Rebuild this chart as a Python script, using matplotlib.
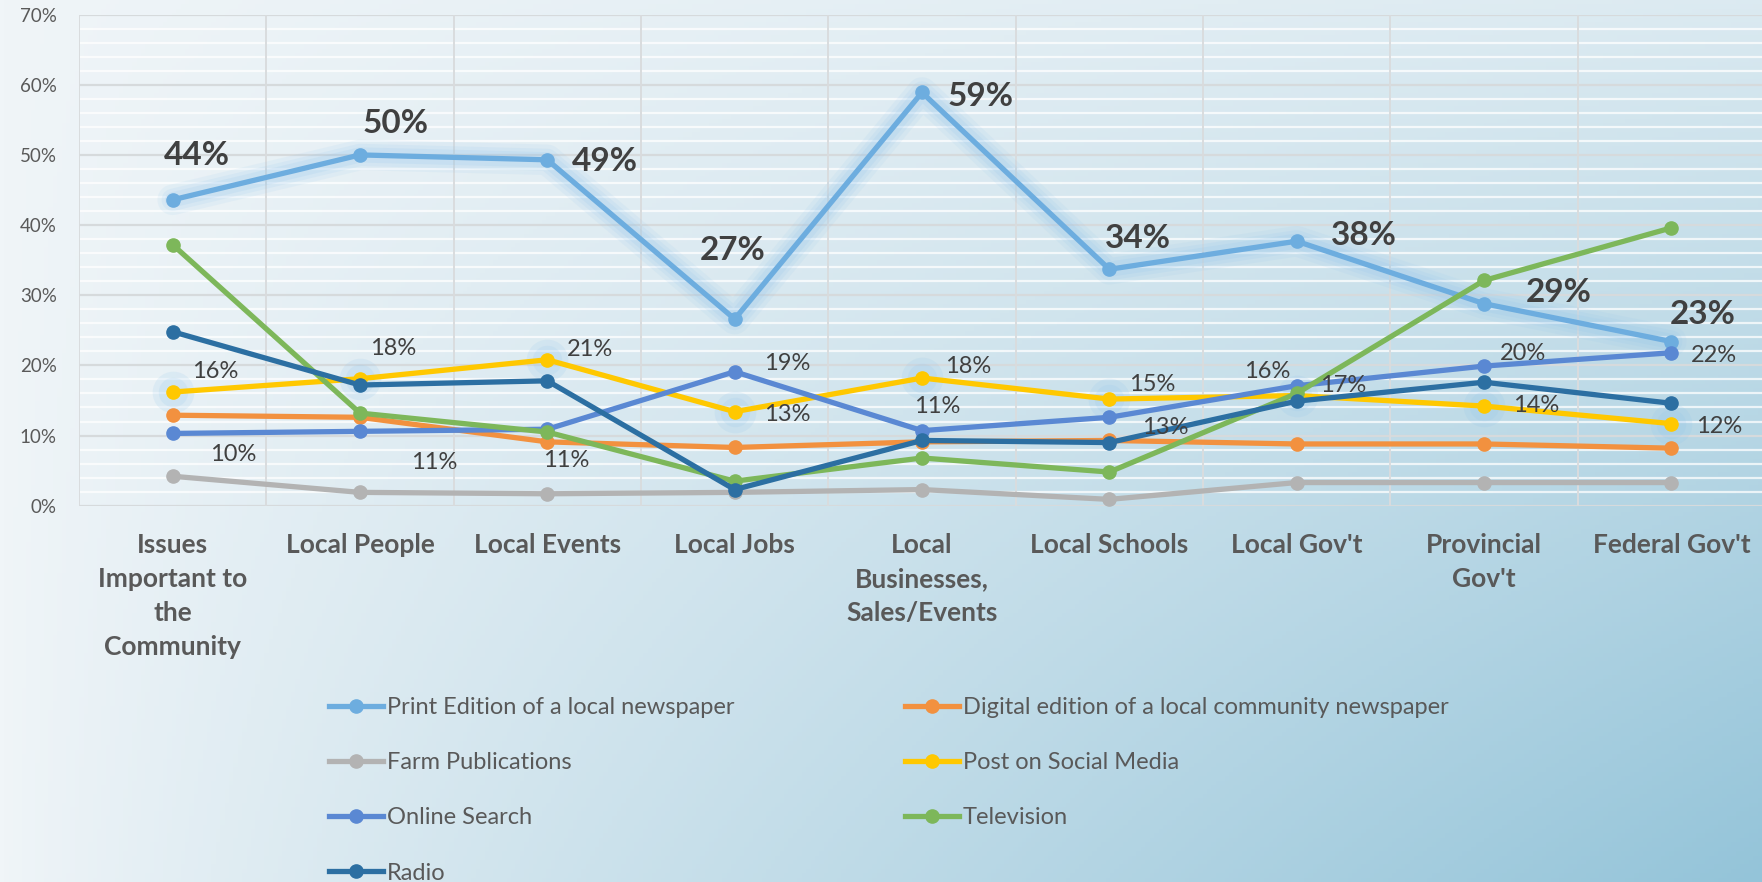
import numpy as np
import matplotlib
matplotlib.use("Agg")
import matplotlib.pyplot as plt
from matplotlib.colors import to_rgb

plt.rcParams['font.family'] = ['Lato', 'DejaVu Sans']

categories = ["Issues\nImportant to\nthe\nCommunity", "Local People", "Local Events", "Local Jobs",
              "Local\nBusinesses,\nSales/Events", "Local Schools", "Local Gov't",
              "Provincial\nGov't", "Federal Gov't"]

print_edition = [43.6, 50.0, 49.3, 26.6, 58.9, 33.7, 37.7, 28.8, 23.4]
digital_edition = [12.9, 12.6, 9.1, 8.3, 9.1, 9.3, 8.8, 8.8, 8.2]
farm_pubs = [4.2, 1.9, 1.7, 1.9, 2.3, 0.9, 3.3, 3.3, 3.3]
social_media = [16.2, 18.1, 20.8, 13.4, 18.2, 15.2, 15.7, 14.2, 11.7]
online_search = [10.3, 10.6, 10.9, 19.1, 10.7, 12.6, 17.1, 19.9, 21.8]
television = [37.2, 13.2, 10.5, 3.5, 6.8, 4.8, 16.0, 32.1, 39.6]
radio = [24.8, 17.2, 17.8, 2.3, 9.3, 9.0, 14.9, 17.6, 14.6]

series_names = ["Print Edition of a local newspaper", "Digital edition of a local community newspaper",
                "Farm Publications", "Post on Social Media", "Online Search", "Television", "Radio"]
series_values = [print_edition, digital_edition, farm_pubs, social_media, online_search, television, radio]
series_colors = ["#6daddf", "#f2913f", "#b3b3b3", "#ffc800", "#5a88d3", "#7db75a", "#2c6fa2"]

yticks = [0, 10, 20, 30, 40, 50, 60, 70]

W, H = 1762, 882
fig = plt.figure(figsize=(W / 100, H / 100), dpi=100)

# background gradient
bg = fig.add_axes([0, 0, 1, 1], zorder=-10)
bg.set_axis_off()
u = np.linspace(0, 1, 400)[None, :]
v = np.linspace(0, 1, 200)[:, None]
t = np.clip(u ** 0.85 * (0.22 + 0.78 * v ** 0.9), 0, 1)
c0 = np.array(to_rgb("#f0f5f8"))
c1 = np.array(to_rgb("#94c4d9"))
img = c0[None, None, :] * (1 - t[..., None]) + c1[None, None, :] * t[..., None]
bg.imshow(img, aspect='auto', extent=[0, 1, 0, 1], origin='upper')
bg.set_xlim(0, 1)
bg.set_ylim(0, 1)

ax = fig.add_axes([79 / W, 1 - 505.7 / H, 1686 / W, (505.7 - 14.6) / H])
ax.set_facecolor('none')
x = np.arange(len(categories))
ax.set_xlim(-0.5, 8.5)
ax.set_ylim(0, 70)

# grid
for yy in np.arange(2, 70, 2):
    if yy % 10 != 0:
        ax.axhline(yy, color='white', lw=1.6, alpha=0.75, zorder=0.5)
for yy in yticks:
    ax.axhline(yy, color='#d6dadc', lw=1.6, zorder=0.6)
for xx in np.arange(-0.5, 8.5, 1.0):
    ax.axvline(xx, color='#d9dcde', lw=1.4, zorder=0.6)
for s in ax.spines.values():
    s.set_visible(False)

ax.set_yticks(yticks)
ax.set_yticklabels([f"{v}%" for v in yticks], fontsize=13.5, color='#595959')
ax.set_xticks(x)
ax.set_xticklabels(categories, fontsize=19, fontweight='bold', color='#595959', linespacing=1.5, va='top')
ax.tick_params(axis='both', length=0)
ax.tick_params(axis='y', pad=16)
ax.tick_params(axis='x', pad=20)

# glow for print line
for lw, a in [(22, 0.10), (16, 0.12), (11, 0.15)]:
    ax.plot(x, print_edition, color='#8ec3ec', lw=lw, alpha=a, solid_capstyle='round',
            solid_joinstyle='round', zorder=1)
# glow for social markers
ax.scatter(x, social_media, s=900, color='#8ec3ec', alpha=0.15, lw=0, zorder=1)
ax.scatter(x, social_media, s=450, color='#8ec3ec', alpha=0.15, lw=0, zorder=1)

handles = {}
for i, (name, vals, col) in enumerate(zip(series_names, series_values, series_colors)):
    ln, = ax.plot(x, vals, color=col, lw=3.8, marker='o', markersize=9.5, zorder=2 + i, label=name)
    handles[name] = ln

# data labels
print_off = [(24, 44), (36, 31), (58, -2), (-2, 69), (59, -4), (29, 31), (67, 6), (75, 11), (31, 27)]
social_off = [(43, 21), (33, 30), (43, 10), (53, -3), (46, 12), (43, 15), (-29, 24), (52, 1), (48, -3)]
online_off = [(61, -21), (74, -31), (19, -31), (53, 8), (15, 24), (56, -10), (46, 0), (39, 13), (43, -3)]

for i in range(len(x)):
    ax.annotate(f"{print_edition[i]:.0f}%", (x[i], print_edition[i]), xytext=print_off[i],
                textcoords='offset pixels', ha='center', va='center', fontsize=24,
                fontweight='bold', color='#404040', zorder=20)
    ax.annotate(f"{social_media[i]:.0f}%", (x[i], social_media[i]), xytext=social_off[i],
                textcoords='offset pixels', ha='center', va='center', fontsize=17,
                color='#404040', zorder=20)
    ax.annotate(f"{online_search[i]:.0f}%", (x[i], online_search[i]), xytext=online_off[i],
                textcoords='offset pixels', ha='center', va='center', fontsize=17,
                color='#404040', zorder=20)

# legend: two columns placed like the reference
col1 = [series_names[i] for i in (0, 2, 4, 6)]
col2 = [series_names[i] for i in (1, 3, 5)]
leg_kw = dict(frameon=False, fontsize=17, labelcolor='#595959', handlelength=2.3,
              handletextpad=0.15, labelspacing=1.45, borderpad=0, borderaxespad=0, loc='upper left')
leg1 = fig.legend([handles[n] for n in col1], col1, bbox_to_anchor=(329 / W, 1 - 697 / H), **leg_kw)
leg2 = fig.legend([handles[n] for n in col2], col2, bbox_to_anchor=(905 / W, 1 - 697 / H), **leg_kw)

fig.savefig("out.png", dpi=100)
